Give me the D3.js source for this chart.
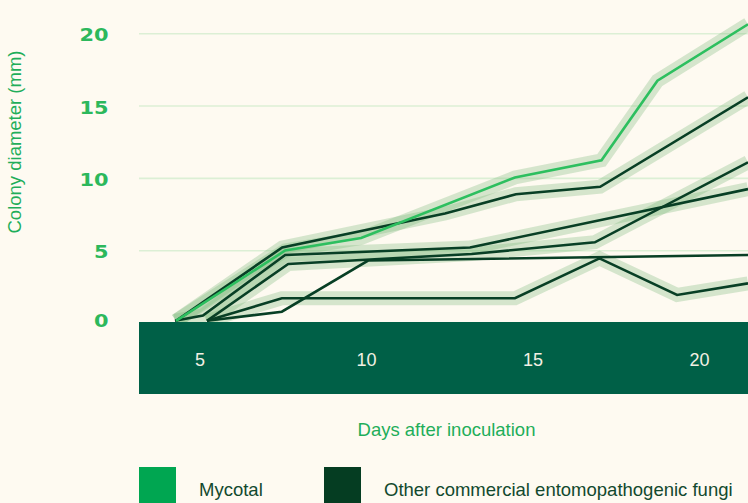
<!DOCTYPE html>
<html>
<head>
<meta charset="utf-8">
<script src="https://cdn.jsdelivr.net/npm/d3@7"></script>
<style>
  html, body { margin: 0; padding: 0; background: #fefaf1; overflow: hidden; }
  svg { display: block; }
</style>
</head>
<body>
<svg id="chart" width="748" height="503"></svg>
<script>
// ---- Data ----
const yTicks = [0, 5, 10, 15, 20];
const xTicks = [5, 10, 15, 20];

const mycotalDays   = [4.29, 7.57, 9.85, 14.47, 17.07, 18.75, 21.47];
const mycotalValues = [0.15, 5.01, 5.88, 10.06, 11.25, 16.75, 20.65];

const otherADays   = [4.29, 7.48, 12.37, 14.50, 17.03, 21.47];
const otherAValues = [0.15, 5.22, 7.57, 8.90, 9.42, 15.60];

const otherBDays   = [4.26, 5.10, 7.57, 13.12, 21.47];
const otherBValues = [0.15, 0.52, 4.70, 5.22, 9.26];

const otherCDays   = [5.22, 7.66, 13.17, 16.87, 21.47];
const otherCValues = [0.15, 4.08, 4.77, 5.58, 11.11];

const otherDDays   = [5.22, 7.47, 10.06, 21.47];
const otherDValues = [0.15, 0.78, 4.32, 4.70];

const otherEDays   = [5.22, 7.47, 14.47, 17.01, 19.34, 21.47];
const otherEValues = [0.15, 1.71, 1.71, 4.47, 1.94, 2.74];

const legendLabels = ["Mycotal", "Other commercial entomopathogenic fungi"];

// ---- Build series ----
function zip(days, vals) { return days.map((d, i) => ({ day: d, value: vals[i] })); }
const series = [
  { group: "other", band: true,  pts: zip(otherADays, otherAValues) },
  { group: "other", band: true,  pts: zip(otherBDays, otherBValues) },
  { group: "other", band: true,  pts: zip(otherCDays, otherCValues) },
  { group: "other", band: false, pts: zip(otherDDays, otherDValues) },
  { group: "other", band: true,  pts: zip(otherEDays, otherEValues) },
  { group: "mycotal", band: true, pts: zip(mycotalDays, mycotalValues) }
];

// ---- Layout / style ----
const W = 748, H = 503;
const plotLeft = 139, plotRight = 748;
const bg = "#fefaf1";
const colors = {
  mycotal: "#2dbf5f",
  other: "#083f25",
  bandFill: "#006047",
  grid: "#dcefd5",
  tick: "#2cb85c",
  title: "#1fae5a",
  legendText: "#12492e",
  legendMycotal: "#00a651",
  legendOther: "#053d22",
  xTick: "#f3f0e4"
};

const x = d3.scaleLinear().domain([3.18, 21.47]).range([plotLeft, plotRight]);
const y = d3.scaleLinear().domain([0, 20]).range([323, 33.7]);

const svg = d3.select("#chart");
svg.append("rect").attr("width", W).attr("height", H).attr("fill", bg);

// gridlines
svg.append("g").selectAll("line")
  .data(yTicks.filter(t => t > 0))
  .join("line")
  .attr("x1", plotLeft).attr("x2", W + 10)
  .attr("y1", d => y(d)).attr("y2", d => y(d))
  .attr("stroke", colors.grid).attr("stroke-width", 1.6);

// y tick labels (wide bold face, stretched horizontally)
svg.append("g").selectAll("text")
  .data(yTicks)
  .join("text")
  .attr("transform", d => `translate(108.5,${Math.min(y(d) + 7.5, 326.5)}) scale(1.13,1)`)
  .attr("text-anchor", "end")
  .attr("font-family", "DejaVu Sans, sans-serif")
  .attr("font-weight", "bold")
  .attr("font-size", 18.5)
  .attr("fill", colors.tick)
  .text(d => d);

// y title
svg.append("text")
  .attr("transform", "translate(21,142) rotate(-90)")
  .attr("text-anchor", "middle")
  .attr("font-family", "Liberation Sans, Arial, sans-serif")
  .attr("font-size", 18.5)
  .attr("fill", colors.title)
  .text("Colony diameter (mm)");

const line = d3.line().x(d => x(d.day)).y(d => y(d.value));

// shaded bands
svg.append("g").selectAll("path")
  .data(series.filter(s => s.band))
  .join("path")
  .attr("d", s => line(s.pts))
  .attr("fill", "none")
  .attr("stroke", "rgba(120,182,120,0.30)")
  .attr("stroke-width", 14)
  .attr("stroke-linejoin", "miter");

// lines (others first, Mycotal on top)
svg.append("g").selectAll("path")
  .data(series)
  .join("path")
  .attr("d", s => line(s.pts))
  .attr("fill", "none")
  .attr("stroke", s => colors[s.group])
  .attr("stroke-width", 2.6)
  .attr("stroke-linejoin", "miter");

// x axis band
svg.append("rect")
  .attr("x", plotLeft).attr("y", 322)
  .attr("width", W - plotLeft + 10).attr("height", 72)
  .attr("fill", colors.bandFill);

const xAxis = d3.axisBottom(x).tickValues(xTicks).tickSize(0).tickPadding(0);
const gx = svg.append("g").attr("transform", "translate(0,352)").call(xAxis);
gx.select(".domain").remove();
gx.selectAll("text")
  .attr("font-family", "Liberation Sans, Arial, sans-serif")
  .attr("font-size", 18)
  .attr("fill", colors.xTick)
  .attr("dy", 0)
  .attr("y", 14);

// x title
svg.append("text")
  .attr("x", 446.5).attr("y", 436)
  .attr("text-anchor", "middle")
  .attr("font-family", "Liberation Sans, Arial, sans-serif")
  .attr("font-size", 18.5)
  .attr("fill", colors.title)
  .text("Days after inoculation");

// legend
const legendX = [139, 324];
const legendColors = [colors.legendMycotal, colors.legendOther];
const lg = svg.append("g").selectAll("g")
  .data(legendLabels)
  .join("g")
  .attr("transform", (d, i) => `translate(${legendX[i]},467)`);
lg.append("rect")
  .attr("width", 37).attr("height", 37)
  .attr("fill", (d, i) => legendColors[i]);
lg.append("text")
  .attr("x", 60).attr("y", 29)
  .attr("font-family", "Liberation Sans, Arial, sans-serif")
  .attr("font-size", 18.5)
  .attr("fill", colors.legendText)
  .text(d => d);
</script>
</body>
</html>
